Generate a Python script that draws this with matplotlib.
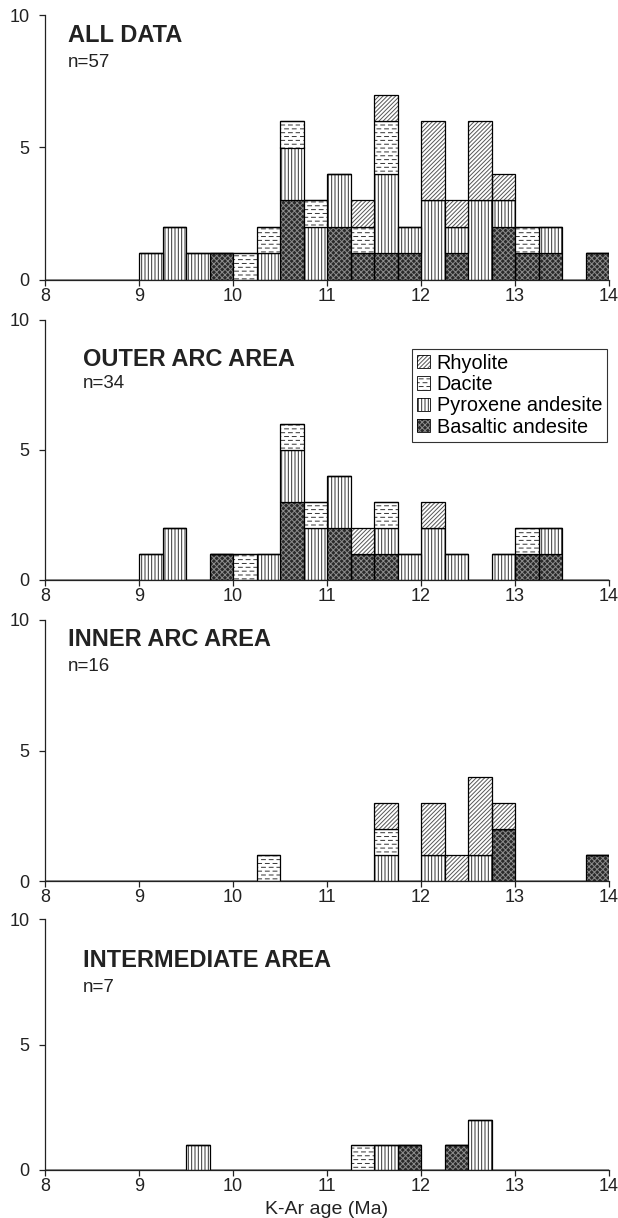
import numpy as np
import matplotlib
matplotlib.use("Agg")
import matplotlib.pyplot as plt
import matplotlib.hatch as mhatch
from matplotlib.path import Path
from matplotlib.patches import Patch

# ---------------- data ----------------
bin_left = [8.0 + 0.25 * i for i in range(24)]   # 0.25 Ma bins, 8-14 Ma
bin_width = 0.25

types = ["Rhyolite", "Dacite", "Pyroxene andesite", "Basaltic andesite"]

def counts(d):
    c = [0] * 24
    for k, v in d.items():
        c[k] = v
    return c

# ALL DATA (n=57)
all_bas = counts({7: 1, 10: 3, 12: 2, 13: 1, 14: 1, 15: 1, 17: 1, 19: 2, 20: 1, 21: 1, 23: 1})
all_pyr = counts({4: 1, 5: 2, 6: 1, 9: 1, 10: 2, 11: 2, 12: 2, 14: 3, 15: 1, 16: 3, 17: 1, 18: 3, 19: 1, 21: 1})
all_dac = counts({8: 1, 9: 1, 10: 1, 11: 1, 13: 1, 14: 2, 20: 1})
all_rhy = counts({13: 1, 14: 1, 16: 3, 17: 1, 18: 3, 19: 1})

# OUTER ARC AREA (n=34)
out_bas = counts({7: 1, 10: 3, 12: 2, 13: 1, 14: 1, 20: 1, 21: 1})
out_pyr = counts({4: 1, 5: 2, 9: 1, 10: 2, 11: 2, 12: 2, 14: 1, 15: 1, 16: 2, 17: 1, 19: 1, 21: 1})
out_dac = counts({8: 1, 10: 1, 11: 1, 14: 1, 20: 1})
out_rhy = counts({13: 1, 16: 1})

# INNER ARC AREA (n=16)
inn_bas = counts({19: 2, 23: 1})
inn_pyr = counts({14: 1, 16: 1, 18: 1})
inn_dac = counts({9: 1, 14: 1})
inn_rhy = counts({14: 1, 16: 2, 17: 1, 18: 3, 19: 1})

# INTERMEDIATE AREA (n=7)
int_bas = counts({15: 1, 17: 1})
int_pyr = counts({6: 1, 14: 1, 18: 2})
int_dac = counts({13: 1})
int_rhy = counts({})

panel_titles = ["ALL DATA", "OUTER ARC AREA", "INNER ARC AREA", "INTERMEDIATE AREA"]
panel_n = ["n=57", "n=34", "n=16", "n=7"]
panel_data = [
    (all_bas, all_pyr, all_dac, all_rhy),
    (out_bas, out_pyr, out_dac, out_rhy),
    (inn_bas, inn_pyr, inn_dac, inn_rhy),
    (int_bas, int_pyr, int_dac, int_rhy),
]
xticks = [8, 9, 10, 11, 12, 13, 14]
yticks = [0, 5, 10]

# ------------- custom dashed hatch for '-' -------------
class DashHatch(mhatch.HatchPatternBase):
    def __init__(self, hatch, density):
        self.rows = 26 if '-' in hatch else 0
        self.cols = 13
        self.num_vertices = self.rows * self.cols * 2

    def set_vertices_and_codes(self, vertices, codes):
        k = 0
        for r in range(self.rows):
            yy = (r + 0.5) / self.rows
            off = 0.5 if r % 2 else 0.0
            for c in range(self.cols):
                x0 = ((c + off) / self.cols) % 1.0
                x1 = x0 + 0.5 / self.cols
                vertices[k] = (x0, yy)
                vertices[k + 1] = (x1, yy)
                codes[k] = Path.MOVETO
                codes[k + 1] = Path.LINETO
                k += 2

mhatch._hatch_types[0] = DashHatch

plt.rcParams['font.family'] = ['Liberation Sans', 'DejaVu Sans']
plt.rcParams['hatch.linewidth'] = 0.7

styles = {
    "Basaltic andesite": dict(fc="#2a2a2a", hatch="xxxxxx", hc="#8c8c8c"),
    "Pyroxene andesite": dict(fc="white", hatch="|||||", hc="#333333"),
    "Dacite": dict(fc="white", hatch="-", hc="#333333"),
    "Rhyolite": dict(fc="white", hatch="////////", hc="#555555"),
}
order = ["Basaltic andesite", "Pyroxene andesite", "Dacite", "Rhyolite"]

fig = plt.figure(figsize=(6.18, 12.18), dpi=100)
W, H = 618, 1218
left_px, right_px = 45, 609
panels_px = [(15, 280), (320, 580), (620, 881), (919, 1170)]
title_pos = [(8.245, 9.0, 8.05), (8.40, 8.25, 7.4), (8.245, 9.0, 8.05), (8.40, 8.1, 7.1)]

axes = []
for p, (top, bot) in enumerate(panels_px):
    ax = fig.add_axes([left_px / W, 1 - bot / H, (right_px - left_px) / W, (bot - top) / H])
    axes.append(ax)
    bas, pyr, dac, rhy = panel_data[p]
    vals = {"Basaltic andesite": bas, "Pyroxene andesite": pyr, "Dacite": dac, "Rhyolite": rhy}
    bottom = np.zeros(24)
    for t in order:
        v = np.array(vals[t], dtype=float)
        st = styles[t]
        ax.bar(bin_left, v, width=bin_width, bottom=bottom, align='edge',
               color=st["fc"], hatch=st["hatch"], edgecolor=st["hc"], linewidth=0)
        ax.bar(bin_left, v, width=bin_width, bottom=bottom, align='edge',
               fill=False, edgecolor="black", linewidth=0.9)
        bottom += v
    ax.set_xlim(8, 14)
    ax.set_ylim(0, 10)
    ax.set_xticks(xticks)
    ax.set_yticks(yticks)
    for s in ["top", "right"]:
        ax.spines[s].set_visible(False)
    for s in ["left", "bottom"]:
        ax.spines[s].set_color("#222222")
        ax.spines[s].set_linewidth(0.9)
    ax.tick_params(axis='both', labelsize=13, colors="#222222", length=4, width=0.9)
    ax.tick_params(axis='y', pad=7)
    ax.tick_params(axis='x', pad=2)
    tx, ty, ny = title_pos[p]
    ax.text(tx, ty, panel_titles[p], fontsize=17, fontweight='bold', color="#222222")
    ax.text(tx, ny, panel_n[p], fontsize=13.5, color="#222222")

axes[-1].set_xlabel("K-Ar age (Ma)", fontsize=14, color="#222222", labelpad=4)

handles = []
for t in types:
    st = styles[t]
    handles.append((Patch(facecolor=st["fc"], hatch=st["hatch"], edgecolor=st["hc"], linewidth=0),
                    Patch(fill=False, edgecolor="black", linewidth=0.6)))
leg = axes[1].legend(handles, types, loc='upper right', bbox_to_anchor=(0.997, 0.89),
                     fontsize=14.3, frameon=True, fancybox=False, edgecolor="black",
                     handlelength=0.65, handleheight=0.65, handletextpad=0.35,
                     labelspacing=0.12, borderpad=0.25, borderaxespad=0)
leg.get_frame().set_linewidth(0.8)

fig.savefig("out.png", dpi=100)
